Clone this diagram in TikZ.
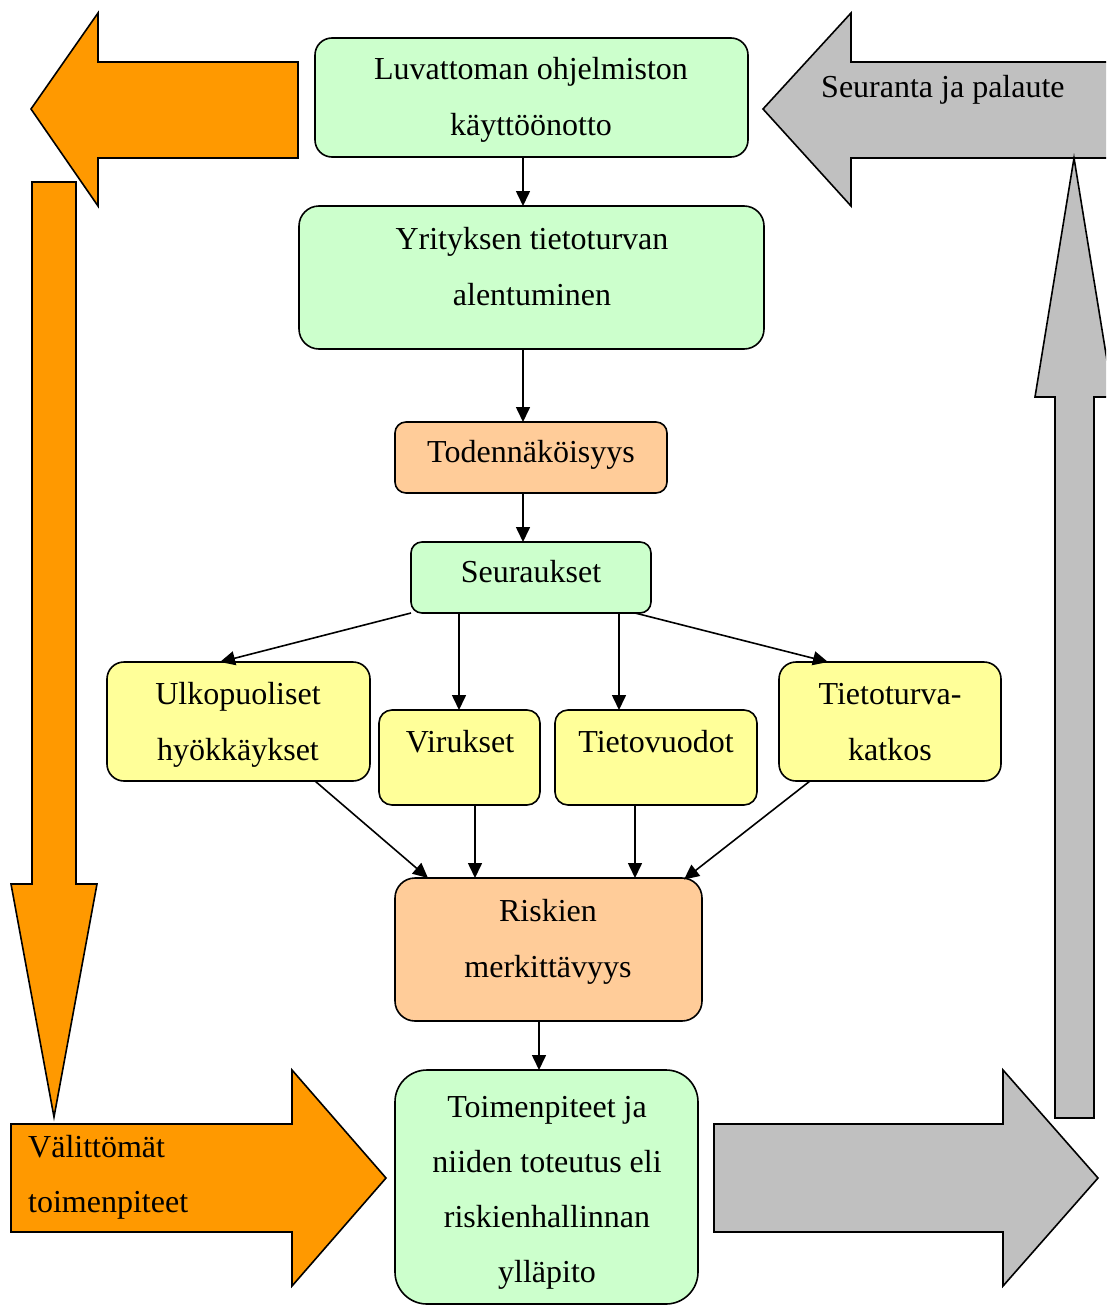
\documentclass[tikz,border=0pt]{standalone}
\usepackage{fontspec}
\setmainfont{Liberation Serif}
\usetikzlibrary{arrows.meta}
\definecolor{boxgreen}{HTML}{CCFFCC}
\definecolor{boxyellow}{HTML}{FFFF99}
\definecolor{boxpeach}{HTML}{FFCC99}
\definecolor{bigorange}{HTML}{FF9900}
\definecolor{biggray}{HTML}{C0C0C0}
\begin{document}
\begin{tikzpicture}[x=1pt,y=-1pt,
  box/.style={draw=black, line width=1.6pt, inner sep=0pt, outer sep=0pt},
  txt/.style={inner sep=0pt, anchor=base, font=\fontsize{32}{38}\selectfont},
  ltxt/.style={txt, anchor=base west},
  conn/.style={draw=black, line width=1.6pt, -{Triangle[length=15pt,width=14pt]}},
  block/.style={draw=black, line width=1.6pt, line join=miter}]
\useasboundingbox (0,0) rectangle (1106,1306);
\clip (0,0) rectangle (1106,1306);

% big block arrows
\draw[block, fill=bigorange] (31,109) -- (98,13) -- (98,62) -- (298,62) -- (298,158) -- (98,158) -- (98,206) -- cycle;
\draw[block, fill=bigorange] (32,182) -- (76,182) -- (76,884) -- (97,884) -- (54,1117) -- (11,884) -- (32,884) -- cycle;
\draw[block, fill=bigorange] (11,1124) -- (292,1124) -- (292,1070) -- (386,1178) -- (292,1286) -- (292,1232) -- (11,1232) -- cycle;
\draw[block, fill=biggray] (763,109) -- (851,13) -- (851,62) -- (1130,62) -- (1130,158) -- (851,158) -- (851,206) -- cycle;
\draw[block, fill=biggray] (1074,158) -- (1113,397) -- (1094,397) -- (1094,1118) -- (1055,1118) -- (1055,397) -- (1035,397) -- cycle;
\draw[block, fill=biggray] (714,1124) -- (1003,1124) -- (1003,1070) -- (1098,1178) -- (1003,1286) -- (1003,1232) -- (714,1232) -- cycle;

\node[ltxt] (lfeedback) at (821,97) {Seuranta ja palaute};
\node[ltxt] (limm1) at (28,1157) {Välittömät};
\node[ltxt] (limm2) at (28,1212) {toimenpiteet};

% flow boxes
\node[box, fill=boxgreen, minimum width=433pt, minimum height=119pt, rounded corners=17pt] (b1) at (531.5,97.5) {};
\node[box, fill=boxgreen, minimum width=465pt, minimum height=143pt, rounded corners=20pt] (b2) at (531.5,277.5) {};
\node[box, fill=boxpeach, minimum width=272pt, minimum height=71pt, rounded corners=11pt] (b3) at (531,457.5) {};
\node[box, fill=boxgreen, minimum width=240pt, minimum height=71pt, rounded corners=11pt] (b4) at (531,577.5) {};
\node[box, fill=boxyellow, minimum width=263pt, minimum height=119pt, rounded corners=17pt] (b5) at (238.5,721.5) {};
\node[box, fill=boxyellow, minimum width=161pt, minimum height=95pt, rounded corners=13pt] (b6) at (459.5,757.5) {};
\node[box, fill=boxyellow, minimum width=202pt, minimum height=95pt, rounded corners=13pt] (b7) at (656,757.5) {};
\node[box, fill=boxyellow, minimum width=222pt, minimum height=119pt, rounded corners=17pt] (b8) at (890,721.5) {};
\node[box, fill=boxpeach, minimum width=307pt, minimum height=143pt, rounded corners=20pt] (b9) at (548.5,949.5) {};
\node[box, fill=boxgreen, minimum width=303pt, minimum height=234pt, rounded corners=32pt] (b10) at (546.5,1187) {};

% box texts
\node[txt] (t1a) at (531,80) {Luvattoman ohjelmiston};
\node[txt] (t1b) at (531,135) {käyttöönotto};
\node[txt] (t2a) at (532,249) {Yrityksen tietoturvan};
\node[txt] (t2b) at (532,305) {alentuminen};
\node[txt] (t3) at (531,462) {Todennäköisyys};
\node[txt] (t4) at (531,582) {Seuraukset};
\node[txt] (t5a) at (238,704) {Ulkopuoliset};
\node[txt] (t5b) at (238,760) {hyökkäykset};
\node[txt] (t6) at (460,752) {Virukset};
\node[txt] (t7) at (656,752) {Tietovuodot};
\node[txt] (t8a) at (890,704) {Tietoturva-};
\node[txt] (t8b) at (890,760) {katkos};
\node[txt] (t9a) at (548,921) {Riskien};
\node[txt] (t9b) at (548,977) {merkittävyys};
\node[txt] (t10a) at (547,1117) {Toimenpiteet ja};
\node[txt] (t10b) at (547,1172) {niiden toteutus eli};
\node[txt] (t10c) at (547,1227) {riskienhallinnan};
\node[txt] (t10d) at (547,1282) {ylläpito};

% connectors
\draw[conn] ([xshift=-8.5pt]b1.south) -- ([xshift=-8.5pt]b2.north);
\draw[conn] ([xshift=-8.5pt]b2.south) -- ([xshift=-8pt]b3.north);
\draw[conn] ([xshift=-8pt]b3.south) -- ([xshift=-8pt]b4.north);
\draw[conn] (b4.south west) -- ([xshift=-18.5pt]b5.north);
\draw[conn] ([xshift=-0.5pt]b4.south -| b6.north) -- ([xshift=-0.5pt]b6.north);
\draw[conn] ([xshift=-37pt]b4.south -| b7.north) -- ([xshift=-37pt]b7.north);
\draw[conn] ([xshift=104pt]b4.south) -- ([xshift=-62pt]b8.north);
\draw[conn] ([xshift=76.5pt]b5.south) -- ([xshift=-120.5pt]b9.north);
\draw[conn] ([xshift=15.5pt]b6.south) -- ([xshift=15.5pt]b6.south |- b9.north);
\draw[conn] ([xshift=-21pt]b7.south) -- ([xshift=-21pt]b7.south |- b9.north);
\draw[conn] ([xshift=-80pt]b8.south) -- ([xshift=135.5pt,yshift=-1.5pt]b9.north);
\draw[conn] ([xshift=-9.5pt]b9.south) -- ([xshift=-7.5pt]b10.north);
\end{tikzpicture}
\end{document}
